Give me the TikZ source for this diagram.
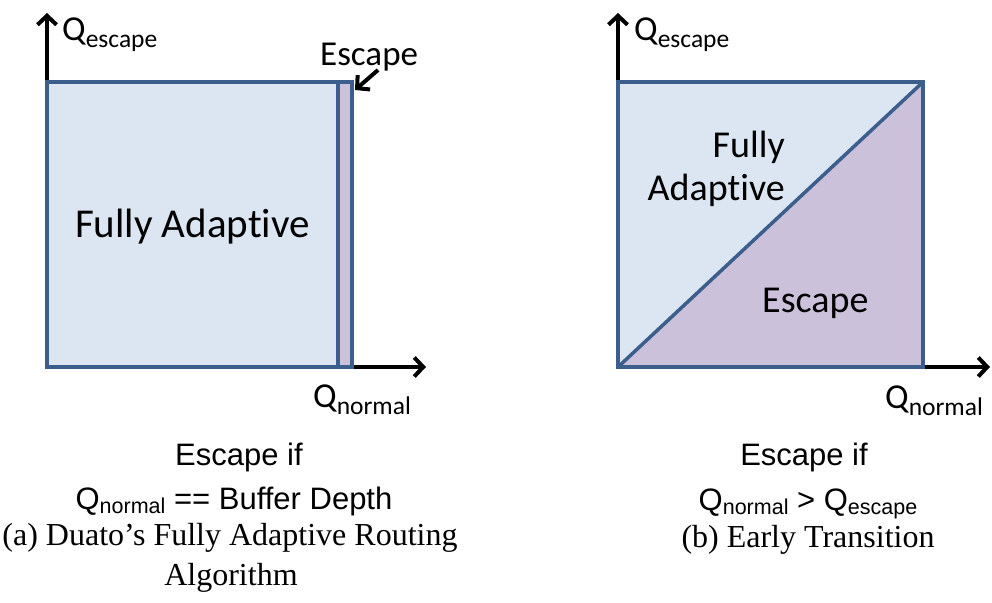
\documentclass[tikz,border=0pt]{standalone}
\usepackage{fontspec}
\setmainfont{Liberation Serif}
\newfontfamily\calib[Ligatures=NoCommon]{Carlito}
\newfontfamily\arialf{Liberation Sans}
\usetikzlibrary{arrows.meta}
\definecolor{fillblue}{HTML}{DCE6F2}
\definecolor{fillpurple}{HTML}{CCC1DA}
\definecolor{edgeblue}{HTML}{3B5E8C}

% subscripts for the two label fonts
\newcommand{\dsub}[1]{\raisebox{-7pt}{\fontsize{25.5}{26}\selectfont #1}}
\newcommand{\csub}[1]{\raisebox{-4pt}{\fontsize{21.5}{22}\selectfont #1}}

\begin{document}
\begin{tikzpicture}[x=1pt,y=-1pt,
  region/.style={draw=edgeblue, line width=3.5pt, line join=miter},
  barb/.style={-{Straight Barb[length=9pt,width=19pt,line width=4pt]}},
  axis/.style={line width=4pt, barb},
  lbl/.style={font=\calib\fontsize{35}{40}\selectfont, inner sep=0pt},
  biglbl/.style={font=\calib\fontsize{41}{46}\selectfont, inner sep=0pt},
  midlbl/.style={font=\calib\fontsize{38}{43}\selectfont, inner sep=0pt},
  cond/.style={font=\arialf\fontsize{31}{36}\selectfont, inner sep=0pt},
  capt/.style={font=\fontsize{32}{38}\selectfont, inner sep=0pt}]
\useasboundingbox (0,0) rectangle (992,602);

% ---------- (a) Duato's scheme ----------
\coordinate (aTL) at (47,82);
\coordinate (aBR) at (352,367);
\coordinate (aTR) at (352,82);
\coordinate (aBL) at (47,367);
\coordinate (sTop) at (338,82);
\coordinate (sBot) at (338,367);
\coordinate (aYend) at (47,13);
\coordinate (aXend) at (426,367);

\draw[axis] (aTL) -- (aYend);
\draw[axis] (aBR) -- (aXend);

\fill[fillblue] (aTL) rectangle (sBot);
\fill[fillpurple] (sTop) rectangle (aBR);
\draw[region] (aTL) rectangle (aBR);
\draw[region] (sTop) -- (sBot);

\node[lbl, anchor=base west] (aQe) at (62,41) {Q\dsub{escape}};
\node[lbl, anchor=base west] (aQn) at (313,407) {Q\dsub{normal}};
\node[lbl, anchor=base west] (aEsc) at (320,65) {Escape};
\node[biglbl, anchor=base] (aFA) at (192.5,237) {Fully Adaptive};

\coordinate (escTail) at (378,70);
\coordinate (escTip) at (355,90);
\draw[line width=4pt, barb] (escTail) -- (escTip);

\node[cond, anchor=base] (aIf) at (239,465) {Escape if};
\node[cond, anchor=base] (aCond) at (234,509) {Q\csub{normal} == Buffer Depth};
\node[capt, anchor=base] (aCap1) at (230,545) {(a) Duato’s Fully Adaptive Routing};
\node[capt, anchor=base] (aCap2) at (231,585) {Algorithm};

% ---------- (b) Early transition ----------
\coordinate (bTL) at (618,82);
\coordinate (bBR) at (923,367);
\coordinate (bTR) at (923,82);
\coordinate (bBL) at (618,367);
\coordinate (bYend) at (618,13);
\coordinate (bXend) at (990,367);

\draw[axis] (bTL) -- (bYend);
\draw[axis] (bBR) -- (bXend);

\fill[fillblue] (bTL) rectangle (bBR);
\fill[fillpurple] (bBL) -- (bTR) -- (bBR) -- cycle;
\draw[region] (bTL) rectangle (bBR);
\draw[region] (bBL) -- (bTR);

\node[lbl, anchor=base west] (bQe) at (634,41) {Q\dsub{escape}};
\node[lbl, anchor=base west] (bQn) at (885,408) {Q\dsub{normal}};
\node[midlbl, anchor=base east] (bF) at (785,157) {Fully};
\node[midlbl, anchor=base east] (bA) at (785,200) {Adaptive};
\node[midlbl, anchor=base west] (bEsc) at (762,312) {Escape};

\node[cond, anchor=base] (bIf) at (804,465) {Escape if};
\node[cond, anchor=base] (bCond) at (808,510) {Q\csub{normal} > Q\csub{escape}};
\node[capt, anchor=base] (bCap) at (808,547) {(b) Early Transition};
\end{tikzpicture}
\end{document}
